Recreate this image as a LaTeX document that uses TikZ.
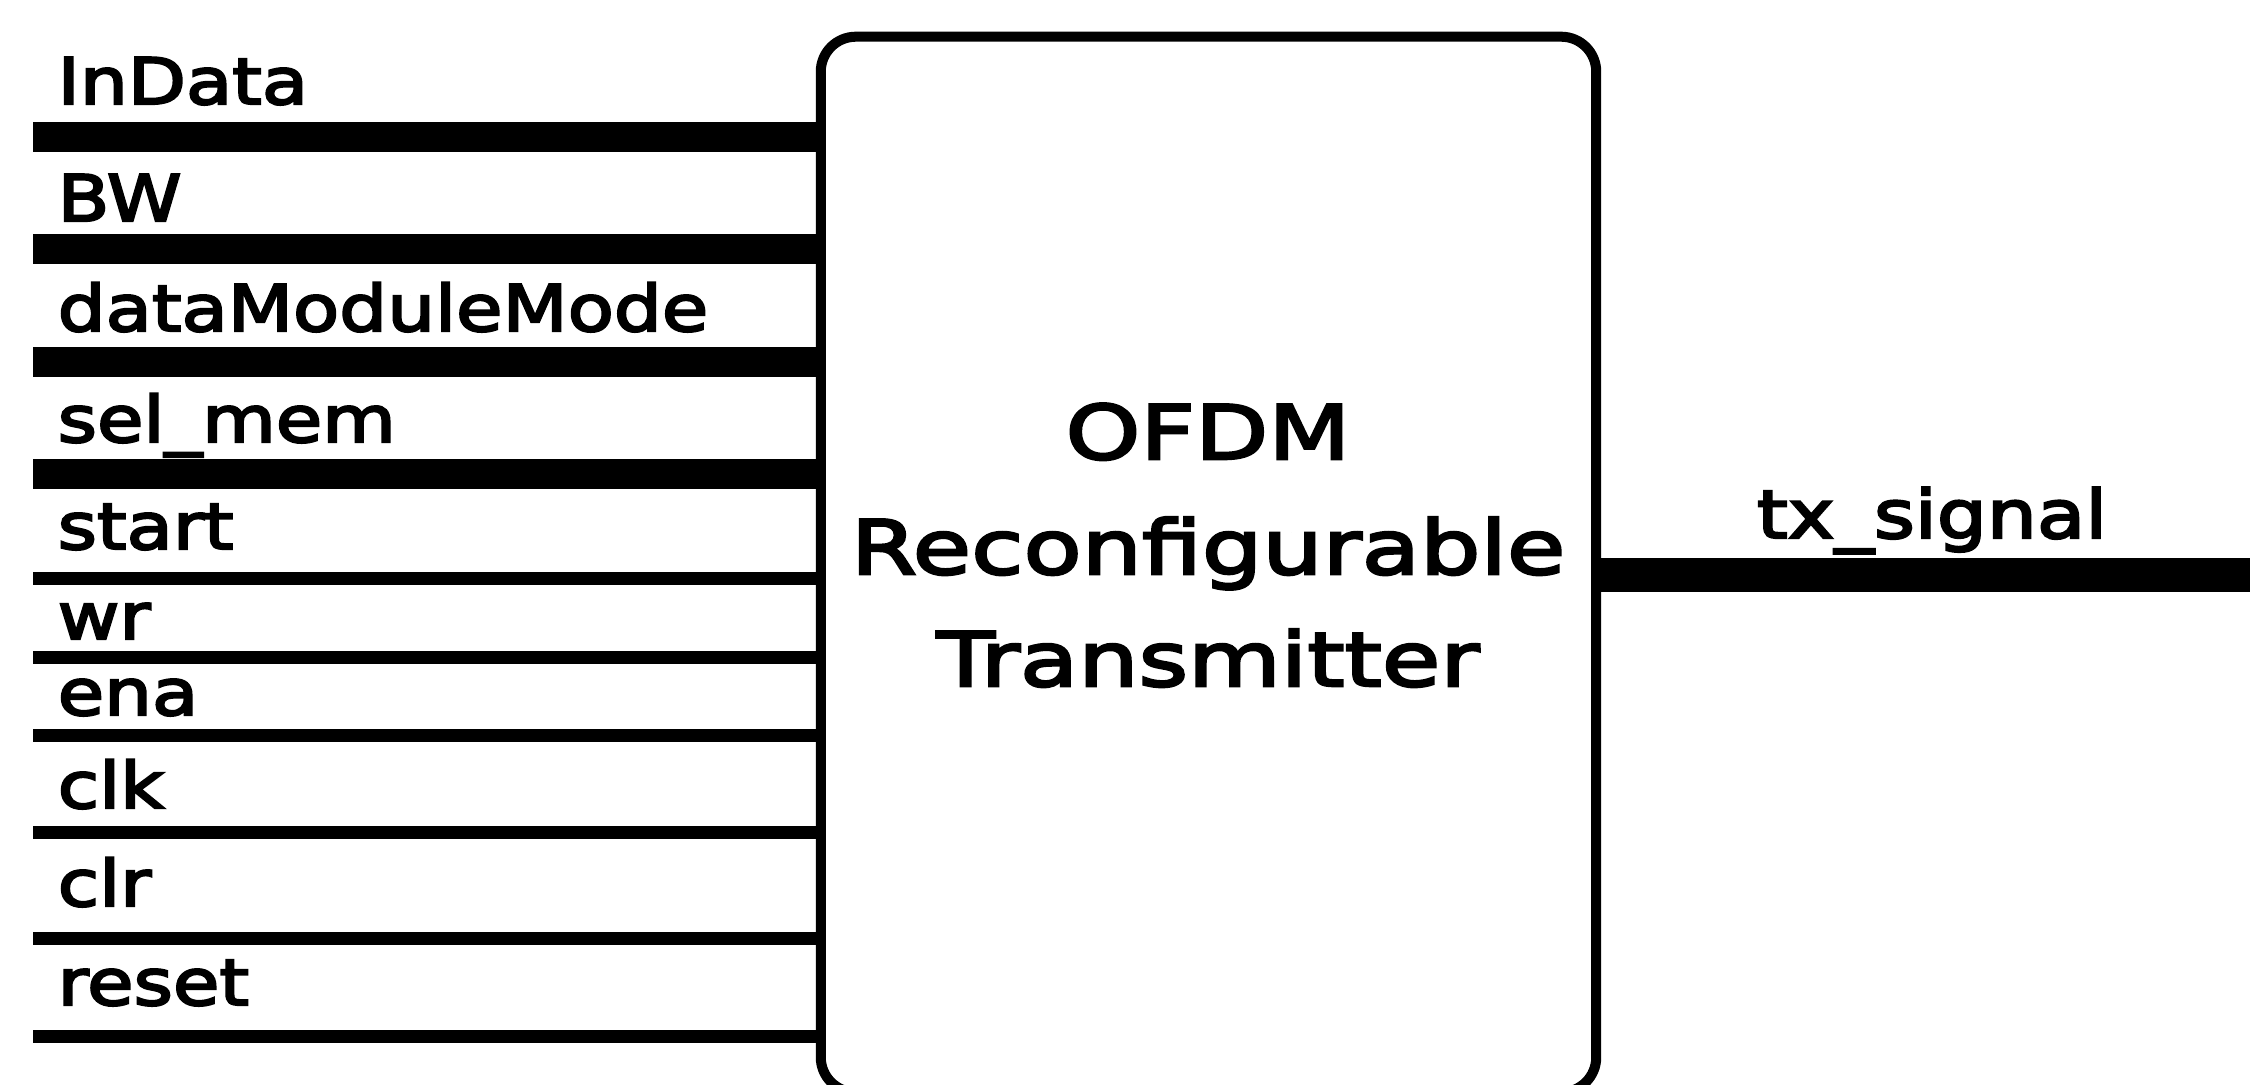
\documentclass[tikz,border=0pt]{standalone}
\usepackage{fontspec}
\setmainfont{DejaVu Sans}
\newfontfamily\lblfont[FakeStretch=1.18,FakeBold=3.5]{DejaVu Sans}
\newfontfamily\ctrfont[FakeStretch=1.27,FakeBold=3.5]{DejaVu Sans}
\begin{document}
\begin{tikzpicture}[x=0.01cm,y=-0.01cm,
  bus/.style={line width=8.5pt},
  wire/.style={line width=3.7pt},
  lbl/.style={anchor=base west, inner sep=0pt, font=\lblfont\fontsize{18.2}{20}\selectfont},
  outlbl/.style={anchor=base, inner sep=0pt, font=\lblfont\fontsize{19}{22}\selectfont},
  ctr/.style={anchor=base, inner sep=0pt, font=\ctrfont\fontsize{21.3}{24}\selectfont}]
\useasboundingbox (0,0) rectangle (2250,1084);
\node[draw, line width=2.85pt, rounded corners=0.35cm, minimum width=7.75cm,
      minimum height=10.55cm, inner sep=0pt] (blk) at (1208.5,564.5) {};
\node[ctr] (t1) at (1208,459) {OFDM};
\node[ctr] (t2) at (1208,574) {Reconfigurable};
\node[ctr] (t3) at (1208,686) {Transmitter};
\foreach \t/\ly/\by/\st [count=\i] in {InData/137/104/bus, BW/249/221/bus,
    dataModuleMode/362/331/bus, sel\_mem/474/442/bus, start/578/549/wire,
    wr/657/639/wire, ena/735/715/wire, clk/832/808/wire, clr/938/906/wire,
    reset/1036/1005/wire} {
  \coordinate (s\i) at (33,\ly);
  \node[lbl] (l\i) at (57,\by) {\t};
  \draw[\st] (s\i) -- (s\i -| blk.west);
}
\coordinate (out) at (2250,575);
\draw[line width=9.4pt] (blk.east |- out) -- (out);
\node[outlbl] (txl) at (1932,538) {tx\_signal};
\end{tikzpicture}
\end{document}
